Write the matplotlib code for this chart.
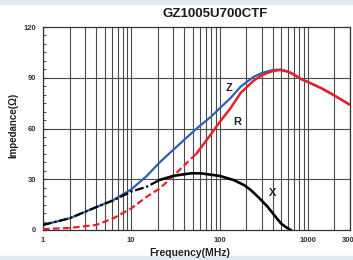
import matplotlib
matplotlib.use("Agg")
import matplotlib.pyplot as plt
from matplotlib.patches import Rectangle
from matplotlib.ticker import FixedLocator, MultipleLocator, NullFormatter

plt.rcParams["font.family"] = ["Liberation Sans", "DejaVu Sans"]
plt.rcParams["font.weight"] = "bold"

# impedance curves
freq_zr = [1, 2, 4, 6.25, 10, 15, 21, 30, 55, 80, 103, 133, 173, 242, 300, 400, 490, 600, 700, 834, 1000, 1400, 1810, 2400, 3000]
z_vals = [3, 6.9, 13.5, 17.7, 24, 32, 40, 47.5, 60, 67, 72.5, 78, 84.7, 90.5, 92.8, 94.6, 94.8, 93.6, 91.8, 89.3, 87.5, 84, 80.8, 77, 74]
r_vals = [0.5, 1.2, 3, 6.9, 12.8, 19.7, 24.6, 32, 45.3, 56.7, 64.6, 72, 81, 88.2, 91.5, 94, 94.6, 93.6, 91.8, 89.3, 87.5, 84, 80.8, 77, 74]

freq_x = [1, 2, 4, 6.25, 10, 15, 21, 30, 47, 61, 100, 145, 190, 226, 280, 349, 420, 494, 560, 640]
x_vals = [3, 6.9, 13.5, 17.5, 22.7, 25.6, 29.6, 32, 33.5, 33.5, 32, 29.5, 26.5, 23.6, 19, 13.8, 8.5, 4, 1.8, 0]

r_dash_end = 8   # index where red turns solid (~55 MHz)
x_dash_end = 6   # index where X turns solid (~21 MHz)

x_ticks = [1, 10, 100, 1000, 3000]
x_tick_labels = ["1", "10", "100", "1000", "3000"]
y_ticks = [0, 30, 60, 90, 120]


def px_to_data(px, py):
    # convert reference pixel position to data coords
    return 10 ** ((px - 43) / 88), (230 - py) * 120 / 203


fig = plt.figure(figsize=(3.53, 2.60), dpi=100)
fig.patches.append(Rectangle((0, 1 - 4 / 260), 1, 4 / 260, transform=fig.transFigure,
                             color="#dfeaf3", zorder=0))
fig.patches.append(Rectangle((0, 0), 1, 4 / 260, transform=fig.transFigure,
                             color="#dfeaf3", zorder=0))
ax = fig.add_axes([43 / 353, 30 / 260, 307 / 353, 203 / 260])

ax.set_xscale("log")
ax.set_xlim(1, 3000)
ax.set_ylim(0, 120)

# grid: every 1..9 per decade vertically, 30 ohm steps horizontally
grid_x = [m * 10 ** d for d in range(4) for m in range(1, 10) if m * 10 ** d <= 3000]
for gx in grid_x:
    ax.axvline(gx, color="#4a4a4a", lw=0.8, zorder=1)
for gy in y_ticks[1:-1]:
    ax.axhline(gy, color="#4a4a4a", lw=0.8, zorder=1)

blue = "#2d5fb2"
red = "#e3222a"

ax.plot(freq_zr, z_vals, color=blue, lw=1.6, zorder=3)
ax.plot(freq_zr[:r_dash_end + 1], r_vals[:r_dash_end + 1], color=red, lw=1.6,
        ls=(0, (3, 1.5)), zorder=3)
ax.plot(freq_zr[r_dash_end:], r_vals[r_dash_end:], color=red, lw=1.8, zorder=3)
ax.plot(freq_x[:x_dash_end + 1], x_vals[:x_dash_end + 1], color="black", lw=1.6,
        ls=(0, (4, 1.2, 1, 1.2)), zorder=4)
ax.plot(freq_x[x_dash_end:], x_vals[x_dash_end:], color="black", lw=1.9, zorder=4)

for name, (px, py) in {"Z": (228, 88), "R": (237, 122), "X": (272, 193)}.items():
    ax.text(*px_to_data(px, py), name, fontsize=8, fontweight="bold",
            ha="center", va="center", color="#222222", zorder=5)

ax.xaxis.set_major_locator(FixedLocator(x_ticks))
ax.xaxis.set_minor_formatter(NullFormatter())
ax.set_xticklabels(x_tick_labels)
ax.yaxis.set_major_locator(FixedLocator(y_ticks))
ax.yaxis.set_minor_locator(MultipleLocator(5))
ax.tick_params(axis="both", which="both", direction="in", labelsize=5.5,
               colors="#333333", labelcolor="#333333")
ax.tick_params(axis="y", which="major", length=3, pad=5)
ax.tick_params(axis="y", which="minor", length=2)
ax.tick_params(axis="x", which="both", length=0, pad=5)
for lbl in ax.get_xticklabels() + ax.get_yticklabels():
    lbl.set_fontweight("bold")

for s in ax.spines.values():
    s.set_color("#333333")
    s.set_linewidth(0.9)

fig.text(215 / 353, 1 - 14 / 260, "GZ1005U700CTF", fontsize=9.5, fontweight="bold",
         ha="center", va="center", color="#1a1a1a")
fig.text(13 / 353, 1 - 125 / 260, "Impedance(\u03a9)", fontsize=7, fontweight="bold",
         rotation=90, ha="center", va="center", color="#222222")
fig.text(190 / 353, 1 - 253 / 260, "Frequency(MHz)", fontsize=7.5, fontweight="bold",
         ha="center", va="center", color="#222222")

fig.savefig("out.png", dpi=100)
